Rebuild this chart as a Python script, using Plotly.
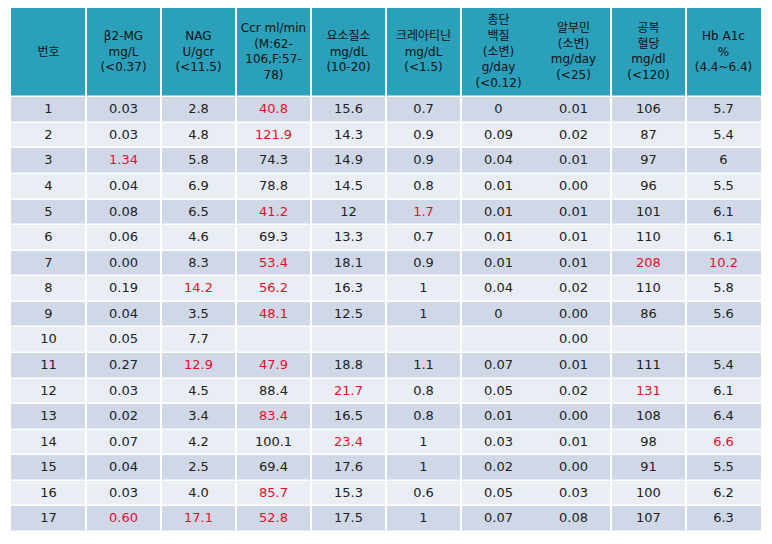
import plotly.graph_objects as go

headers = [
    "번호",
    "β2-MG<br>mg/L<br>(&lt;0.37)",
    "NAG<br>U/gcr<br>(&lt;11.5)",
    "Ccr ml/min<br>(M:62-<br>106,F:57-<br>78)",
    "요소질소<br>mg/dL<br>(10-20)",
    "크레아티닌<br>mg/dL<br>(&lt;1.5)",
    "총단<br>백질<br>(소변)<br>g/day<br>(&lt;0.12)",
    "알부민<br>(소변)<br>mg/day<br>(&lt;25)",
    "공복<br>혈당<br>mg/dl<br>(&lt;120)",
    "Hb A1c<br>%<br>(4.4~6.4)",
]

no = [str(i) for i in range(1, 18)]
b2mg = ["0.03", "0.03", "1.34", "0.04", "0.08", "0.06", "0.00", "0.19", "0.04", "0.05",
        "0.27", "0.03", "0.02", "0.07", "0.04", "0.03", "0.60"]
nag = ["2.8", "4.8", "5.8", "6.9", "6.5", "4.6", "8.3", "14.2", "3.5", "7.7",
       "12.9", "4.5", "3.4", "4.2", "2.5", "4.0", "17.1"]
ccr = ["40.8", "121.9", "74.3", "78.8", "41.2", "69.3", "53.4", "56.2", "48.1", "",
       "47.9", "88.4", "83.4", "100.1", "69.4", "85.7", "52.8"]
bun = ["15.6", "14.3", "14.9", "14.5", "12", "13.3", "18.1", "16.3", "12.5", "",
       "18.8", "21.7", "16.5", "23.4", "17.6", "15.3", "17.5"]
creat = ["0.7", "0.9", "0.9", "0.8", "1.7", "0.7", "0.9", "1", "1", "",
         "1.1", "0.8", "0.8", "1", "1", "0.6", "1"]
tprot = ["0", "0.09", "0.04", "0.01", "0.01", "0.01", "0.01", "0.04", "0", "",
         "0.07", "0.05", "0.01", "0.03", "0.02", "0.05", "0.07"]
alb = ["0.01", "0.02", "0.01", "0.00", "0.01", "0.01", "0.01", "0.02", "0.00", "0.00",
       "0.01", "0.02", "0.00", "0.01", "0.00", "0.03", "0.08"]
fbs = ["106", "87", "97", "96", "101", "110", "208", "110", "86", "",
       "111", "131", "108", "98", "91", "100", "107"]
hba1c = ["5.7", "5.4", "6", "5.5", "6.1", "6.1", "10.2", "5.8", "5.6", "",
         "5.4", "6.1", "6.4", "6.6", "5.5", "6.2", "6.3"]

# flagged (abnormal) cells: column index -> row numbers (1-based)
flagged = {
    1: [3, 17],
    2: [8, 11, 17],
    3: [1, 2, 5, 7, 8, 9, 11, 13, 16, 17],
    4: [12, 14],
    5: [5],
    8: [7, 12],
    9: [7, 14],
}

columns = [no, b2mg, nag, ccr, bun, creat, tprot, alb, fbs, hba1c]
n_rows = len(no)
n_cols = len(columns)

HEADER_BG = "#2BA0BB"
ROW_A = "#D0D8E8"
ROW_B = "#E9EDF4"
RED = "#E0102A"
TXT = "#222222"
FONT = "DejaVu Sans, Noto Sans CJK KR, sans-serif"

# the page body has an 8px margin; the figure is sized to fit inside the window
W, HT = 756, 528

# header height expressed in body-row units
H = 89 / 25.5

# cell backgrounds (0 = odd row, 1 = even row, 2 = header)
z = [[2] * n_cols] + [[r % 2] * n_cols for r in range(n_rows)]
y_edges = [-H] + list(range(0, n_rows + 1))

fig = go.Figure()
fig.add_trace(go.Heatmap(
    z=z,
    x=list(range(n_cols)),
    y=y_edges,
    zmin=0, zmax=2,
    colorscale=[[0, ROW_A], [0.5, ROW_B], [1, HEADER_BG]],
    showscale=False,
    ygap=1.5,
    hoverinfo="skip",
))

# body text
bx, by, bt, bc = [], [], [], []
for ci, col in enumerate(columns):
    reds = flagged.get(ci, [])
    for r, v in enumerate(col):
        bx.append(ci)
        by.append(r + 0.5)
        bt.append(v)
        bc.append(RED if (r + 1) in reds else TXT)

fig.add_trace(go.Scatter(
    x=bx, y=by, text=bt, mode="text",
    textposition="middle center",
    textfont=dict(family=FONT, size=13, color=bc),
    hoverinfo="skip", showlegend=False,
))

# header text
fig.add_trace(go.Scatter(
    x=list(range(n_cols)), y=[-H / 2] * n_cols, text=headers, mode="text",
    textposition="middle center",
    textfont=dict(family=FONT, size=12, color="#111111"),
    hoverinfo="skip", showlegend=False,
))

# vertical white column separators (none between 총단백질 and 알부민)
shapes = []
for b in range(n_cols - 1):
    if b == 6:
        continue
    shapes.append(dict(
        type="line", xref="x", yref="y",
        x0=b + 0.5, x1=b + 0.5, y0=-H, y1=n_rows,
        line=dict(color="white", width=2),
    ))

fig.update_layout(
    width=W,
    height=HT,
    margin=dict(l=0, r=0, t=0, b=0),
    paper_bgcolor="white",
    plot_bgcolor="white",
    shapes=shapes,
    xaxis=dict(range=[-0.5, n_cols - 0.5], domain=[3 / W, 753 / W],
               visible=False, fixedrange=True),
    yaxis=dict(range=[n_rows, -H], domain=[1 - 524 / HT, 1.0],
               visible=False, fixedrange=True),
)

fig.write_html("out.html")
